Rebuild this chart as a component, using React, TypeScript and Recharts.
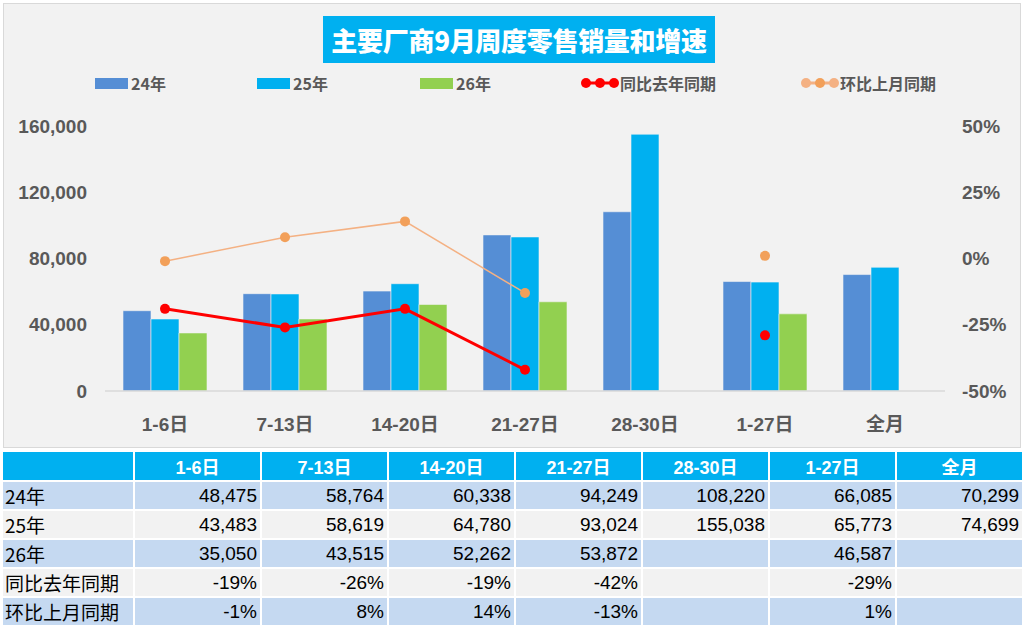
import {
  Bar,
  ComposedChart,
  Line,
  XAxis,
  YAxis,
} from 'recharts';

const categories = ['1-6日', '7-13日', '14-20日', '21-27日', '28-30日', '1-27日', '全月'];
const sales24 = [48475, 58764, 60338, 94249, 108220, 66085, 70299];
const sales25 = [43483, 58619, 64780, 93024, 155038, 65773, 74699];
const sales26 = [35050, 43515, 52262, 53872, null, 46587, null];
const yoy = [-0.19, -0.26, -0.19, -0.42, null, -0.29, null];
const mom = [-0.01, 0.08, 0.14, -0.13, null, 0.01, null];
const leftTicks = [0, 40000, 80000, 120000, 160000];
const rightTicks = [-0.5, -0.25, 0, 0.25, 0.5];

const data = categories.map((name, i) => ({
  name,
  s24: sales24[i],
  s25: sales25[i],
  s26: sales26[i],
  yoy: yoy[i],
  mom: mom[i],
}));

const C24 = '#558ed5';
const C25 = '#00b0f0';
const C26 = '#92d050';
const RED = '#ff0000';
const ORANGE = '#f4b183';
const ORANGE_DOT = '#f2a05a';

const num = (v: number | null) => (v == null ? '' : v.toLocaleString('en-US'));
const pct = (v: number | null) => (v == null ? '' : `${Math.round(v * 100)}%`);

const cjk = '"Liberation Sans", Arial, "Noto Sans CJK SC", sans-serif';

const legendItems = [
  { label: '24年', kind: 'bar', color: C24, x: 95 },
  { label: '25年', kind: 'bar', color: C25, x: 257 },
  { label: '26年', kind: 'bar', color: C26, x: 420 },
  { label: '同比去年同期', kind: 'line', color: RED, dot: RED, x: 580 },
  { label: '环比上月同期', kind: 'line', color: ORANGE, dot: ORANGE_DOT, x: 800 },
];

const rows = [
  { label: '24年', values: sales24.map(num), bg: '#c5d9f1' },
  { label: '25年', values: sales25.map(num), bg: '#f2f2f2' },
  { label: '26年', values: sales26.map(num), bg: '#c5d9f1' },
  { label: '同比去年同期', values: yoy.map(pct), bg: '#f2f2f2' },
  { label: '环比上月同期', values: mom.map(pct), bg: '#c5d9f1' },
];

export default function App() {
  return (
    <div
      style={{
        position: 'absolute',
        left: 0,
        top: 0,
        width: 1024,
        height: 625,
        background: '#ffffff',
        fontFamily: cjk,
        overflow: 'hidden',
      }}
    >
      <div
        style={{
          position: 'absolute',
          left: 3,
          top: 3,
          width: 1016,
          height: 443,
          background: '#f2f2f2',
          border: '1px solid #d9d9d9',
        }}
      />
      <div
        style={{
          position: 'absolute',
          left: 323,
          top: 16,
          width: 392,
          height: 47,
          background: '#00b0f0',
          color: '#ffffff',
          fontFamily: '"Noto Sans CJK SC", sans-serif',
          fontWeight: 900,
          fontSize: 26,
          lineHeight: '47px',
          textAlign: 'center',
          letterSpacing: -0.3,
        }}
      >
        主要厂商9月周度零售销量和增速
      </div>
      {legendItems.map((item) => (
        <div
          key={item.label}
          style={{
            position: 'absolute',
            left: item.x,
            top: 72,
            height: 22,
            display: 'flex',
            alignItems: 'center',
            fontFamily: '"Noto Sans CJK SC", sans-serif',
            fontWeight: 700,
            fontSize: 16,
            color: '#595959',
          }}
        >
          {item.kind === 'bar' ? (
            <span style={{ width: 33, height: 11, background: item.color, marginRight: 3 }} />
          ) : (
            <svg width={40} height={14}>
              <line x1={4} y1={7} x2={36} y2={7} stroke={item.color} strokeWidth={3} />
              <circle cx={6} cy={7} r={5} fill={item.color} />
              <circle cx={20} cy={7} r={5} fill={item.dot} />
              <circle cx={34} cy={7} r={5} fill={item.color} />
            </svg>
          )}
          {item.label}
        </div>
      ))}
      <div style={{ position: 'absolute', left: 0, top: 0 }}>
        <ComposedChart
          width={1024}
          height={450}
          data={data}
          margin={{ top: 126, right: 9, left: 15, bottom: 19 }}
          barGap={0}
        >
          <XAxis
            dataKey="name"
            axisLine={{ stroke: '#d9d9d9', strokeWidth: 1.5 }}
            tickLine={false}
            tickSize={0}
            tickMargin={27}
            height={40}
            tick={{ fill: '#595959', fontSize: 19, fontWeight: 700, fontFamily: cjk }}
          />
          <YAxis
            yAxisId="left"
            domain={[0, 160000]}
            ticks={leftTicks}
            tickFormatter={(v: number) => v.toLocaleString('en-US')}
            axisLine={false}
            tickLine={false}
            tickSize={0}
            tickMargin={18}
            width={90}
            tick={{ fill: '#595959', fontSize: 19, fontWeight: 700, fontFamily: cjk }}
          />
          <YAxis
            yAxisId="right"
            orientation="right"
            domain={[-0.5, 0.5]}
            ticks={rightTicks}
            tickFormatter={(v: number) => `${Math.round(v * 100)}%`}
            axisLine={false}
            tickLine={false}
            tickSize={0}
            tickMargin={17}
            width={70}
            tick={{ fill: '#595959', fontSize: 19, fontWeight: 700, fontFamily: cjk }}
          />
          <Bar yAxisId="left" dataKey="s24" fill={C24} stroke="#f2f2f2" strokeWidth={0.6} barSize={28} isAnimationActive={false} />
          <Bar yAxisId="left" dataKey="s25" fill={C25} stroke="#f2f2f2" strokeWidth={0.6} barSize={28} isAnimationActive={false} />
          <Bar yAxisId="left" dataKey="s26" fill={C26} stroke="#f2f2f2" strokeWidth={0.6} barSize={28} isAnimationActive={false} />
          <Line
            yAxisId="right"
            dataKey="mom"
            stroke={ORANGE}
            strokeWidth={1.5}
            dot={{ r: 5, fill: ORANGE_DOT, stroke: 'none' }}
            activeDot={false}
            isAnimationActive={false}
          />
          <Line
            yAxisId="right"
            dataKey="yoy"
            stroke={RED}
            strokeWidth={3}
            dot={{ r: 5, fill: RED, stroke: 'none' }}
            activeDot={false}
            isAnimationActive={false}
          />
        </ComposedChart>
      </div>
      <table
        style={{
          position: 'absolute',
          left: 1,
          top: 450,
          borderCollapse: 'separate',
          borderSpacing: 2,
          tableLayout: 'fixed',
          width: 1022,
          fontSize: 19,
          color: '#000000',
        }}
      >
        <colgroup>
          <col style={{ width: 130 }} />
          {categories.map((c) => (
            <col key={c} style={{ width: 125 }} />
          ))}
        </colgroup>
        <tbody>
          <tr style={{ height: 28 }}>
            <td style={{ background: '#00b0f0', padding: 0 }} />
            {categories.map((c) => (
              <td
                key={c}
                style={{
                  background: '#00b0f0',
                  color: '#ffffff',
                  fontWeight: 700,
                  fontSize: 18,
                  textAlign: 'center',
                  padding: 0,
                }}
              >
                {c}
              </td>
            ))}
          </tr>
          {rows.map((r) => (
            <tr key={r.label} style={{ height: 27 }}>
              <td
                style={{
                  background: r.bg,
                  padding: '0 2px',
                  textAlign: 'left',
                  fontFamily: '"Noto Sans CJK SC", sans-serif',
                  fontSize: 19,
                  lineHeight: '27px',
                  whiteSpace: 'nowrap',
                }}
              >
                {r.label}
              </td>
              {r.values.map((v, i) => (
                <td
                  key={i}
                  style={{ background: r.bg, padding: '0 3px', textAlign: 'right', lineHeight: '27px' }}
                >
                  {v}
                </td>
              ))}
            </tr>
          ))}
        </tbody>
      </table>
    </div>
  );
}
